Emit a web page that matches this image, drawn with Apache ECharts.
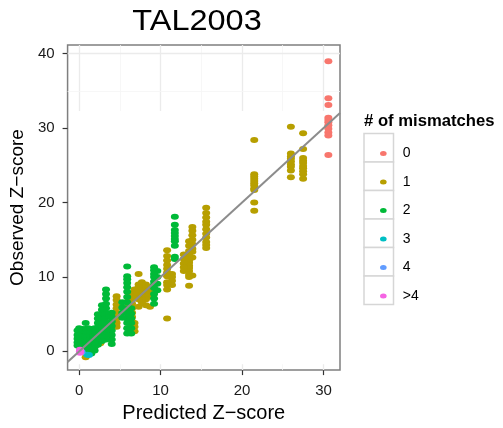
<!DOCTYPE html>
<html>
<head>
<meta charset="utf-8">
<script src="https://cdn.jsdelivr.net/npm/echarts@6/dist/echarts.min.js"></script>
</head>
<body style="margin:0">
<div id="main" style="width:503px;height:428px;"></div>
<script type="text/javascript">
// columns of points: [predicted, [observed...]]
var mm0 = [
    [30.6, [39.0, 34.0, 33.1, 31.4, 31.1, 30.8, 30.4, 29.9, 29.4, 29.0, 26.4]]
];
var mm1 = [
    [27.5, [29.3, 27.2, 26.0, 25.6, 25.3, 24.9, 24.6, 24.2, 23.8, 23.2]],
    [26.0, [30.2, 26.6, 26.2, 25.9, 25.5, 25.1, 24.8, 24.3, 23.4]],
    [21.5, [28.4, 23.8, 23.5, 23.2, 22.9, 22.6, 22.3, 21.9, 21.7, 20.0, 18.9]],
    [15.6, [19.3, 18.6, 18.0, 17.4, 17.0, 16.4, 15.8, 15.3, 14.7, 14.3, 13.9]],
    [13.9, [16.7, 16.2, 15.6, 15.0, 14.4, 13.8, 13.4, 12.6, 10.2]],
    [13.5, [14.8, 14.2, 13.5, 12.9, 12.2, 11.9, 11.5, 11.2, 10.8, 10.3, 10.0, 8.8]],
    [12.85, [13.0, 12.4, 11.8, 11.3, 10.8]],
    [11.4, [10.4, 10.0, 9.5, 8.9]],
    [10.8, [13.6, 12.8, 12.2, 11.6, 11.1, 10.6, 10.1, 9.3, 8.9, 8.3, 4.4]],
    [8.7, [8.6, 8.2, 7.8, 7.4, 6.0]],
    [8.2, [9.0, 8.6, 8.2, 7.8, 7.4, 7.0, 6.2]],
    [7.7, [9.3, 9.0, 8.6, 8.2, 7.8, 7.4, 7.0, 6.6]],
    [7.3, [10.4, 9.0, 8.6, 8.2, 7.8, 7.4, 7.0, 6.0]],
    [6.8, [8.3, 7.9, 7.5, 7.1, 3.8, 3.3, 2.7]],
    [6.5, [6.4, 5.8, 5.2, 4.6, 4.0, 3.5]],
    [6.1, [7.5, 6.9, 6.3]],
    [4.6, [7.4, 6.9, 6.3, 5.8, 5.1, 4.4, 3.8, 3.3]],
    [3.8, [2.9, 2.3, 1.7]],
    [3.2, [3.4, 2.9, 2.4, 1.8]],
    [2.6, [3.2, 2.7, 2.2, 1.6, 1.1]],
    [2.0, [2.9, 2.4, 1.9, 1.3, 0.8]],
    [1.5, [2.5, 2.0, 1.5, 1.0, 0.5]],
    [0.8, [0.6, -0.8]]
];
var mm2 = [
    [11.75, [18.1, 17.0, 16.3, 15.9, 15.5, 15.1, 14.8, 14.2, 12.7, 12.4]],
    [9.6, [10.8, 10.0, 9.1, 8.2]],
    [9.2, [11.3, 10.9, 10.4, 10.0, 9.4, 9.0, 8.5, 7.7, 7.1, 6.4]],
    [6.4, [5.8, 5.1, 4.4, 3.8, 3.1, 2.4]],
    [5.9, [11.4, 10.1, 9.7, 9.2, 8.6, 8.0, 7.3, 6.6, 5.8, 5.1, 4.4, 3.8, 3.1, 2.4]],
    [5.3, [6.6, 5.9, 5.2, 4.5]],
    [4.0, [5.2, 4.6, 4.0, 3.4, 2.8, 2.2, 1.6, 1.0]],
    [3.3, [8.3, 7.7, 7.1, 6.4, 5.8, 5.2, 4.6, 4.0, 3.4, 2.8, 2.2, 1.6]],
    [2.8, [6.2, 5.6, 5.0, 4.4, 3.8, 3.2, 2.6, 2.0, 1.4]],
    [2.3, [5.0, 4.4, 3.8, 3.2, 2.6, 2.0, 1.4, 0.9]],
    [1.9, [3.1, 2.6, 2.1, 1.6, 1.1, 0.6, 0.1]],
    [1.5, [3.0, 2.5, 2.0, 1.5, 1.0, 0.5, 0.0, -0.3]],
    [1.1, [3.1, 2.6, 2.1, 1.6, 1.1, 0.6, 0.1, -0.3]],
    [0.8, [3.8, 3.0, 2.5, 2.0, 1.5, 1.0, 0.5, 0.0]],
    [0.4, [3.0, 2.5, 2.0, 1.5, 1.0, 0.6]],
    [0.0, [3.1, 2.6, 2.1, 1.6, 1.1, 0.7]],
    [-0.2, [2.8, 2.2, 1.7, 1.2, 0.8]]
];
var mm3 = [
    [1.0, [-0.45]],
    [1.2, [-0.5]]
];
var mm4 = [
    [0.3, [-0.1]]
];
var mm5 = [
    [0.1, [0.2, 0.0, -0.2]]
];

var legendLabels = ['0', '1', '2', '3', '4', '>4'];
var colors = ['#F8766D', '#B79F00', '#00BA38', '#00BFC4', '#619CFF', '#F564E3'];
var identityLine = [[-1.42, -1.42], [32.03, 32.03]];

var xRange = [-1.42, 32.03];
var yRange = [-2.52, 41.17];
var xTicks = [0, 10, 20, 30];
var yTicks = [0, 10, 20, 30, 40];

var FONT = 'Liberation Sans, Arial, sans-serif';
var ELLIPSE = 'path://M0,3a4,3 0 1,0 8,0a4,3 0 1,0 -8,0';

function points(cols) {
    var out = [];
    cols.forEach(function (c) {
        c[1].forEach(function (y) { out.push([c[0], y]); });
    });
    return out;
}

// grid lines only show above the band / below it
var gridSegs = [];
function gridStyle(major) {
    return {type: 'solid', color: major ? '#ebebeb' : '#f5f5f5', width: major ? 1.3 : 0.8};
}
[0, 5, 10, 15, 20, 25, 30].forEach(function (x) {
    gridSegs.push([{coord: [x, 32.3], lineStyle: gridStyle(x % 10 === 0)}, {coord: [x, yRange[1]]}]);
    gridSegs.push([{coord: [x, yRange[0]], lineStyle: gridStyle(x % 10 === 0)}, {coord: [x, -1.73]}]);
});
[35, 40].forEach(function (y) {
    gridSegs.push([{coord: [xRange[0], y], lineStyle: gridStyle(y % 10 === 0)}, {coord: [xRange[1], y]}]);
});

var groups = [mm0, mm1, mm2, mm3, mm4, mm5];
var drawOrder = [1, 2, 0, 3, 4, 5];
var series = [{
    name: 'grid',
    type: 'line',
    data: [],
    z: 1,
    silent: true,
    markLine: {silent: true, symbol: ['none', 'none'], label: {show: false}, lineStyle: {type: 'solid'}, data: gridSegs}
}];
drawOrder.forEach(function (i) {
    series.push({
        name: legendLabels[i],
        type: 'scatter',
        symbol: ELLIPSE,
        symbolSize: [8, 6],
        itemStyle: {color: colors[i], opacity: 1},
        z: 3,
        data: points(groups[i])
    });
});
series.push({
    name: 'identity',
    type: 'line',
    data: identityLine,
    symbol: 'none',
    silent: true,
    z: 4,
    lineStyle: {color: '#8c8c8c', width: 2}
});

var graphics = [{
    type: 'text', x: 197, y: 22, scaleX: 1.12,
    style: {text: 'TAL2003', font: '29px ' + FONT, fill: '#000', textAlign: 'center', textVerticalAlign: 'middle'}
}, {
    type: 'text', x: 364, y: 121.5, scaleX: 1.04,
    style: {text: '# of mismatches', font: 'bold 16px ' + FONT, fill: '#000', textAlign: 'left', textVerticalAlign: 'middle'}
}];
legendLabels.forEach(function (l, i) {
    graphics.push({
        type: 'rect', z: -1,
        shape: {x: 364, y: 133.5 + i * 28.5, width: 29.5, height: 28.5},
        style: {fill: '#fff', stroke: '#d6d6d6', lineWidth: 1.5}
    });
});

var chart = echarts.init(document.getElementById('main'));
chart.setOption({
    animation: false,
    backgroundColor: '#fff',
    grid: {
        left: 66.7, right: 163, top: 45, bottom: 54,
        show: true, backgroundColor: '#fff', borderColor: '#7f7f7f', borderWidth: 1.5
    },
    legend: {
        data: legendLabels,
        orient: 'vertical',
        left: 375,
        top: 134.5,
        itemWidth: 7,
        itemHeight: 5,
        itemGap: 0.5,
        icon: ELLIPSE,
        selectedMode: false,
        textStyle: {fontFamily: FONT, fontSize: 14, color: '#000', lineHeight: 28, padding: [0, 0, 0, 11]}
    },
    graphic: graphics,
    xAxis: {
        type: 'value',
        min: xRange[0], max: xRange[1],
        name: 'Predicted Z\u2212score',
        nameLocation: 'middle',
        nameGap: 27,
        nameTextStyle: {fontFamily: FONT, fontSize: 20, color: '#000'},
        axisLine: {show: false, onZero: false},
        axisTick: {show: true, customValues: xTicks, length: 5, lineStyle: {color: '#333', width: 1.2}},
        axisLabel: {customValues: xTicks, fontFamily: FONT, fontSize: 15, color: '#1a1a1a', margin: 13},
        splitLine: {show: false}
    },
    yAxis: {
        type: 'value',
        min: yRange[0], max: yRange[1],
        name: 'Observed Z\u2212score',
        nameLocation: 'middle',
        nameGap: 32,
        nameTextStyle: {fontFamily: FONT, fontSize: 19, color: '#000'},
        axisLine: {show: false, onZero: false},
        axisTick: {show: true, customValues: yTicks, length: 5, lineStyle: {color: '#333', width: 1.2}},
        axisLabel: {customValues: yTicks, fontFamily: FONT, fontSize: 15, color: '#1a1a1a', margin: 13},
        splitLine: {show: false}
    },
    series: series
});
</script>
</body>
</html>
